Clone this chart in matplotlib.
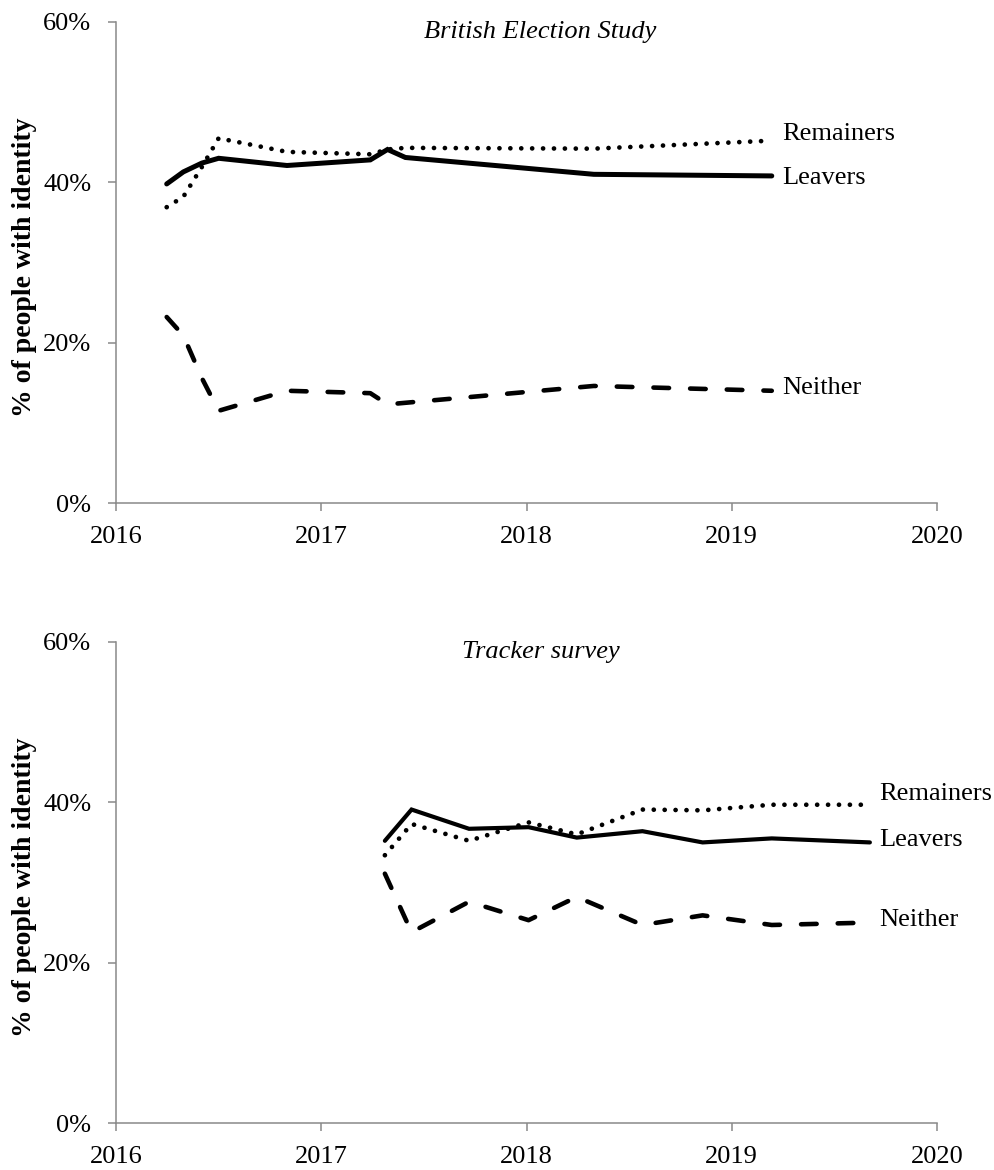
import matplotlib
matplotlib.use("Agg")
import matplotlib.pyplot as plt
from matplotlib.ticker import FuncFormatter

# ---------------- data ----------------
bes_dates = [2016.247, 2016.328, 2016.418, 2016.50, 2016.833, 2017.239, 2017.323, 2017.41, 2018.328, 2019.195]
bes_leavers = [39.8, 41.3, 42.4, 43.0, 42.1, 42.8, 44.1, 43.1, 41.0, 40.8]
bes_remainers = [36.9, 38.2, 41.9, 45.5, 43.8, 43.5, 44.1, 44.3, 44.2, 45.2]
bes_neither = [23.2, 20.9, 15.6, 11.5, 14.0, 13.7, 12.3, 12.5, 14.6, 14.0]

trk_dates = [2017.31, 2017.44, 2017.72, 2018.01, 2018.245, 2018.565, 2018.858, 2019.195, 2019.673]
trk_leavers = [35.2, 39.1, 36.7, 36.9, 35.6, 36.4, 35.0, 35.5, 35.0]
trk_remainers = [33.4, 37.3, 35.2, 37.5, 36.0, 39.1, 39.0, 39.7, 39.7]
trk_neither = [31.1, 23.8, 27.6, 25.3, 28.2, 24.7, 25.9, 24.7, 25.0]

series_names = ["Remainers", "Leavers", "Neither"]
panel_titles = ["British Election Study", "Tracker survey"]
x_ticks = [2016, 2017, 2018, 2019, 2020]
y_ticks = [0, 20, 40, 60]
y_label = "% of people with identity"

# ---------------- style ----------------
plt.rcParams['font.family'] = ['Liberation Serif', 'DejaVu Serif']
FS = 19
GRAY = '#898989'

fig = plt.figure(figsize=(9.95, 11.7), dpi=100)
W, H = 995, 1170
LEFT, RIGHT = 116, 937


def make_axes(top_px, bottom_px):
    return fig.add_axes([LEFT / W, (H - bottom_px) / H, (RIGHT - LEFT) / W, (bottom_px - top_px) / H])


ax_top = make_axes(22, 503)
ax_bot = make_axes(642, 1123)

panels = [
    (ax_top, bes_dates, bes_remainers, bes_leavers, bes_neither, 3.6,
     {"Remainers": (10, 7), "Leavers": (10, -2), "Neither": (10, 3)}),
    (ax_bot, trk_dates, trk_remainers, trk_leavers, trk_neither, 3.0,
     {"Remainers": (9, 11), "Leavers": (9, 2), "Neither": (9, 3)}),
]

for i, (ax, d, rem, lea, nei, lw_solid, offs) in enumerate(panels):
    ax.plot(d, rem, color='black', lw=3.4, linestyle=(0, (0.01, 2.3)),
            dash_capstyle='round', solid_capstyle='round')
    ax.plot(d, lea, color='black', lw=lw_solid, solid_capstyle='round', solid_joinstyle='miter')
    ax.plot(d, nei, color='black', lw=3.3, linestyle=(0, (3.4, 4.6)),
            dash_capstyle='round')
    for name, vals in zip(series_names, [rem, lea, nei]):
        ox, oy = offs[name]
        ax.annotate(name, xy=(d[-1], vals[-1]), xytext=(ox, oy),
                    textcoords='offset pixels', fontsize=FS,
                    ha='left', va='center', annotation_clip=False)

    ax.set_xlim(2016, 2020)
    ax.set_ylim(0, 60)
    ax.set_xticks(x_ticks)
    ax.set_yticks(y_ticks)
    ax.yaxis.set_major_formatter(FuncFormatter(lambda v, p: f"{v:.0f}%"))
    ax.xaxis.set_major_formatter(FuncFormatter(lambda v, p: f"{v:.0f}"))
    for s in ['top', 'right']:
        ax.spines[s].set_visible(False)
    for s in ['left', 'bottom']:
        ax.spines[s].set_color(GRAY)
        ax.spines[s].set_linewidth(1.1)
    ax.tick_params(axis='y', direction='out', length=5.8, width=1.1, color=GRAY,
                   labelsize=FS, pad=12)
    ax.tick_params(axis='x', direction='out', length=5.8, width=1.1, color=GRAY,
                   labelsize=FS, pad=11)
    ax.set_ylabel(y_label, fontsize=20, fontweight='bold')
    ax.yaxis.set_label_coords((37 - LEFT) / (RIGHT - LEFT), 0.49)
    ax.text(0.517, 0.98, panel_titles[i], transform=ax.transAxes, fontsize=19,
            style='italic', ha='center', va='center')
    ax.patch.set_alpha(0)

fig.savefig('out.png', dpi=100)
